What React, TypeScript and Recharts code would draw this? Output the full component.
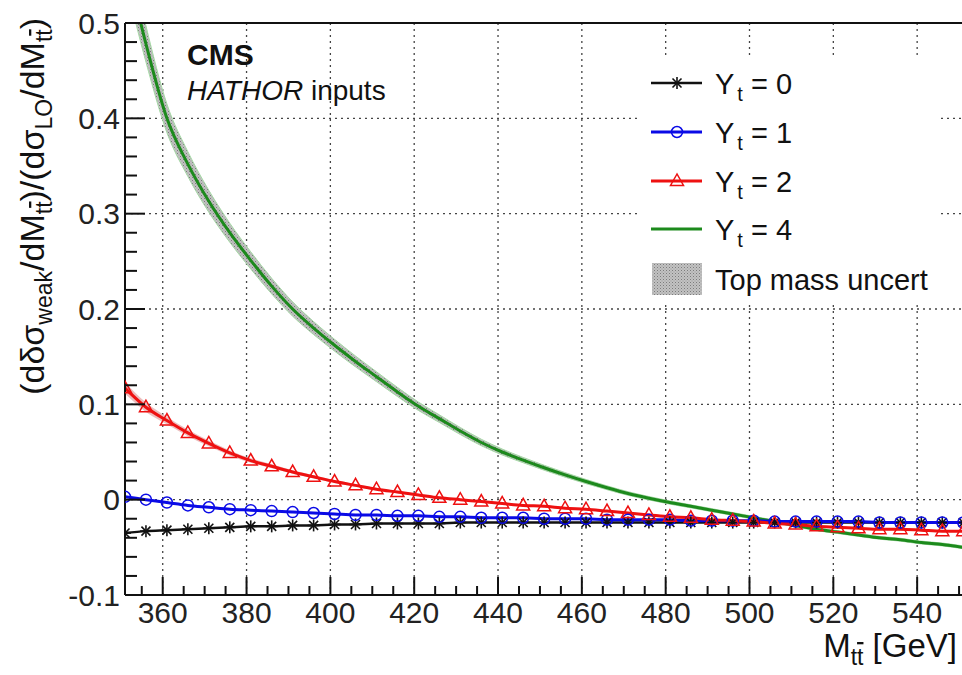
import { Area, CartesianGrid, ComposedChart, Line, ReferenceLine, XAxis, YAxis } from "recharts";

// M_tt points (GeV), one marker every 5 GeV
const massPoints = [
  351, 356, 361, 366, 371, 376, 381, 386, 391, 396, 401, 406, 411, 416, 421, 426, 431, 436, 441, 446,
  451, 456, 461, 466, 471, 476, 481, 486, 491, 496, 501, 506, 511, 516, 521, 526, 531, 536, 541, 546, 551,
];

// Y_t = 0
const yt0 = [
  -0.035, -0.033, -0.032, -0.031, -0.03, -0.029, -0.028, -0.028, -0.027, -0.027, -0.026, -0.026, -0.025,
  -0.025, -0.025, -0.025, -0.024, -0.024, -0.024, -0.024, -0.024, -0.024, -0.024, -0.024, -0.024, -0.024,
  -0.024, -0.024, -0.024, -0.024, -0.024, -0.024, -0.024, -0.024, -0.024, -0.024, -0.024, -0.024, -0.024,
  -0.024, -0.024,
];

// Y_t = 1
const yt1 = [
  0.003, 0.0, -0.003, -0.006, -0.008, -0.01, -0.011, -0.012, -0.013, -0.014, -0.015, -0.016, -0.016,
  -0.017, -0.017, -0.018, -0.018, -0.019, -0.019, -0.019, -0.02, -0.02, -0.02, -0.021, -0.021, -0.021,
  -0.021, -0.022, -0.022, -0.022, -0.022, -0.023, -0.023, -0.023, -0.023, -0.023, -0.024, -0.024, -0.024,
  -0.024, -0.024,
];

// Y_t = 2
const yt2 = [
  0.117, 0.097, 0.083, 0.07, 0.059, 0.049, 0.041, 0.035, 0.029, 0.024, 0.019, 0.015, 0.011, 0.008, 0.005,
  0.002, 0.0, -0.002, -0.004, -0.006, -0.007, -0.009, -0.01, -0.012, -0.014, -0.016, -0.018, -0.019,
  -0.021, -0.022, -0.023, -0.025, -0.026, -0.028, -0.029, -0.03, -0.031, -0.031, -0.032, -0.033, -0.033,
];

// Y_t = 4
const yt4 = [
  0.57, 0.478, 0.4, 0.352, 0.313, 0.28, 0.251, 0.224, 0.2, 0.18, 0.162, 0.145, 0.129, 0.113, 0.098, 0.085,
  0.072, 0.06, 0.05, 0.0415, 0.0335, 0.026, 0.019, 0.0125, 0.0065, 0.0015, -0.003, -0.007, -0.011, -0.015,
  -0.019, -0.023, -0.027, -0.031, -0.034, -0.037, -0.04, -0.042, -0.045, -0.047, -0.05,
];

// top mass uncertainty, half width of the band
const yt2Uncert = [
  0.006, 0.005, 0.004, 0.0035, 0.003, 0.0027, 0.0024, 0.0021, 0.0019, 0.0017, 0.0015, 0.0014, 0.0013,
  0.0012, 0.0011, 0.001, 0.001, 0.001, 0.001, 0.001, 0.001, 0.001, 0.001, 0.001, 0.001, 0.001, 0.001,
  0.001, 0.001, 0.001, 0.001, 0.001, 0.001, 0.001, 0.001, 0.001, 0.001, 0.001, 0.001, 0.001, 0.001,
];
const yt4Uncert = [
  0.024, 0.019, 0.015, 0.013, 0.0115, 0.01, 0.009, 0.0082, 0.0075, 0.0068, 0.0062, 0.0057, 0.0052, 0.0048,
  0.0044, 0.004, 0.0037, 0.0034, 0.0031, 0.0028, 0.0026, 0.0024, 0.0022, 0.002, 0.0019, 0.0018, 0.0017,
  0.0016, 0.0016, 0.0015, 0.0015, 0.0015, 0.0015, 0.0015, 0.0015, 0.0015, 0.0015, 0.0015, 0.0015, 0.0015,
  0.0015,
];

const xMajorTicks = [360, 380, 400, 420, 440, 460, 480, 500, 520, 540];
const yMajorTicks = [-0.1, 0, 0.1, 0.2, 0.3, 0.4, 0.5];

const xTicks: number[] = [];
for (let v = 355; v <= 550; v += 5) xTicks.push(v);
const yTicks: number[] = [];
for (let i = -5; i <= 25; i++) yTicks.push(Math.round(i * 2) / 100);

const data = massPoints.map((m, i) => ({
  m,
  yt0: yt0[i],
  yt1: yt1[i],
  yt2: yt2[i],
  yt4: yt4[i],
  band2: [yt2[i] - yt2Uncert[i], yt2[i] + yt2Uncert[i]],
  band4: [yt4[i] - yt4Uncert[i], yt4[i] + yt4Uncert[i]],
}));

const FONT = "'Liberation Sans', Arial, Helvetica, sans-serif";
const BLACK = "#111";
const BLUE = "#0a0ae6";
const RED = "#ee1111";
const GREEN = "#1c8a1c";

const Star = ({ cx, cy, c = BLACK }: { cx: number; cy: number; c?: string }) => (
  <g stroke={c} strokeWidth={1.6}>
    <line x1={cx - 6} x2={cx + 6} y1={cy} y2={cy} />
    <line x1={cx} x2={cx} y1={cy - 6} y2={cy + 6} />
    <line x1={cx - 4.5} x2={cx + 4.5} y1={cy - 4.5} y2={cy + 4.5} />
    <line x1={cx - 4.5} x2={cx + 4.5} y1={cy + 4.5} y2={cy - 4.5} />
  </g>
);

const Circle = ({ cx, cy }: { cx: number; cy: number }) => (
  <circle cx={cx} cy={cy} r={5.5} fill="none" stroke={BLUE} strokeWidth={1.5} />
);

const Triangle = ({ cx, cy }: { cx: number; cy: number }) => (
  <polygon
    points={`${cx},${cy - 7} ${cx - 6.5},${cy + 4.5} ${cx + 6.5},${cy + 4.5}`}
    fill="none"
    stroke={RED}
    strokeWidth={1.5}
  />
);

const XTick = (props: any) => {
  const { x, y, payload } = props;
  const major = xMajorTicks.includes(payload.value);
  return (
    <g>
      <line x1={x} x2={x} y1={y} y2={y - (major ? 18 : 9)} stroke={BLACK} strokeWidth={2} />
      {major && (
        <text x={x} y={y + 28} textAnchor="middle" fontSize={30} fontFamily={FONT} fill="#222">
          {payload.value}
        </text>
      )}
    </g>
  );
};

const YTick = (props: any) => {
  const { x, y, payload } = props;
  const v = payload.value;
  const major = yMajorTicks.some((t) => Math.abs(t - v) < 1e-9);
  return (
    <g>
      <line x1={x} x2={x + (major ? 20 : 12)} y1={y} y2={y} stroke={BLACK} strokeWidth={2} />
      {major && (
        <text x={x - 5} y={y + 10.5} textAnchor="end" fontSize={30} fontFamily={FONT} fill="#222">
          {v}
        </text>
      )}
    </g>
  );
};

// subscript "tt" with a bar over the second t
const TTbar = ({ size }: { size: number }) => (
  <>
    <tspan fontSize={size} dy={8}>
      t
    </tspan>
    <tspan fontSize={size} textDecoration="overline">
      t
    </tspan>
  </>
);

export default function App() {
  return (
    <div style={{ position: "absolute", left: 0, top: 0, width: 962, height: 675, background: "#fff" }}>
      <svg width={0} height={0} style={{ position: "absolute" }}>
        <defs>
          <pattern id="massHatch" width={3} height={3} patternUnits="userSpaceOnUse">
            <rect width={3} height={3} fill="#c2c2c2" />
            <rect width={1} height={1} fill="#7c7c7c" />
            <rect x={1.5} y={1.5} width={1} height={1} fill="#999" />
          </pattern>
        </defs>
      </svg>
      <ComposedChart width={962} height={675} data={data} margin={{ top: 23, right: 0, bottom: 0, left: 0 }}>
        <CartesianGrid
          stroke="#444"
          strokeDasharray="2 4"
          strokeWidth={1.3}
          horizontalValues={yMajorTicks}
          verticalValues={xMajorTicks}
        />
        <XAxis
          type="number"
          dataKey="m"
          domain={[351, 550.7]}
          allowDataOverflow
          ticks={xTicks}
          interval={0}
          height={80}
          tickSize={0}
          tickMargin={0}
          tickLine={false}
          axisLine={{ stroke: BLACK, strokeWidth: 2 }}
          tick={(p: any) => <XTick {...p} />}
        />
        <YAxis
          type="number"
          domain={[-0.1, 0.5]}
          allowDataOverflow
          ticks={yTicks}
          interval={0}
          width={125}
          tickSize={0}
          tickMargin={0}
          tickLine={false}
          axisLine={{ stroke: BLACK, strokeWidth: 2 }}
          tick={(p: any) => <YTick {...p} />}
        />
        <ReferenceLine y={0.5} stroke={BLACK} strokeWidth={2} />
        <Area
          dataKey="band4"
          type="monotone"
          fill="url(#massHatch)"
          fillOpacity={1}
          stroke="#a6dba6"
          strokeWidth={1}
          isAnimationActive={false}
        />
        <Area
          dataKey="band2"
          type="monotone"
          fill="#e9b3b3"
          fillOpacity={0.85}
          stroke="none"
          isAnimationActive={false}
        />
        <Line
          dataKey="yt4"
          type="monotone"
          stroke={GREEN}
          strokeWidth={3}
          dot={false}
          isAnimationActive={false}
        />
        <Line
          dataKey="yt0"
          type="monotone"
          stroke={BLACK}
          strokeWidth={2.5}
          dot={(p: any) => <Star key={p.index} cx={p.cx} cy={p.cy} />}
          isAnimationActive={false}
        />
        <Line
          dataKey="yt1"
          type="monotone"
          stroke={BLUE}
          strokeWidth={3}
          dot={(p: any) => <Circle key={p.index} cx={p.cx} cy={p.cy} />}
          isAnimationActive={false}
        />
        <Line
          dataKey="yt2"
          type="monotone"
          stroke={RED}
          strokeWidth={3}
          dot={(p: any) => <Triangle key={p.index} cx={p.cx} cy={p.cy} />}
          isAnimationActive={false}
        />
      </ComposedChart>

      <svg
        width={962}
        height={675}
        style={{ position: "absolute", left: 0, top: 0, pointerEvents: "none" }}
        fontFamily={FONT}
      >
        {/* legend */}
        <rect x={637} y={57} width={303} height={246} fill="#fff" />
        <line x1={651} x2={702} y1={83} y2={83} stroke={BLACK} strokeWidth={2.5} />
        <Star cx={677} cy={83} />
        <line x1={651} x2={702} y1={132} y2={132} stroke={BLUE} strokeWidth={3} />
        <Circle cx={677} cy={132} />
        <line x1={651} x2={702} y1={181} y2={181} stroke={RED} strokeWidth={3} />
        <Triangle cx={677} cy={181} />
        <line x1={651} x2={702} y1={229} y2={229} stroke={GREEN} strokeWidth={3} />
        <rect x={652} y={263} width={50} height={32} fill="url(#massHatch)" />
        {[
          { v: "0", y: 94 },
          { v: "1", y: 143 },
          { v: "2", y: 192 },
          { v: "4", y: 240 },
        ].map((r) => (
          <text key={r.v} x={715} y={r.y} fontSize={29} fill="#111">
            Y
            <tspan fontSize={20} dx={3} dy={7}>
              t
            </tspan>
            <tspan dy={-7}>{` = ${r.v}`}</tspan>
          </text>
        ))}
        <text x={715} y={290} fontSize={29} fill="#111">
          Top mass uncert
        </text>

        {/* labels */}
        <text x={187} y={65} fontSize={30} fontWeight="bold" fill="#111">
          CMS
        </text>
        <text x={187} y={100} fontSize={28} fill="#111">
          <tspan fontStyle="italic">HATHOR</tspan> inputs
        </text>

        <text x={957} y={657} fontSize={33} textAnchor="end" fill="#111">
          M
          <TTbar size={23} />
          <tspan dy={-8}> [GeV]</tspan>
        </text>

        <text transform="translate(44,18) rotate(-90)" fontSize={34} textAnchor="end" fill="#111">
          (dδσ
          <tspan fontSize={23} dy={8}>
            weak
          </tspan>
          <tspan dy={-8}>/dM</tspan>
          <TTbar size={23} />
          <tspan dy={-8}>)/(dσ</tspan>
          <tspan fontSize={23} dy={8}>
            LO
          </tspan>
          <tspan dy={-8}>/dM</tspan>
          <TTbar size={23} />
          <tspan dy={-8}>)</tspan>
        </text>
      </svg>
    </div>
  );
}
